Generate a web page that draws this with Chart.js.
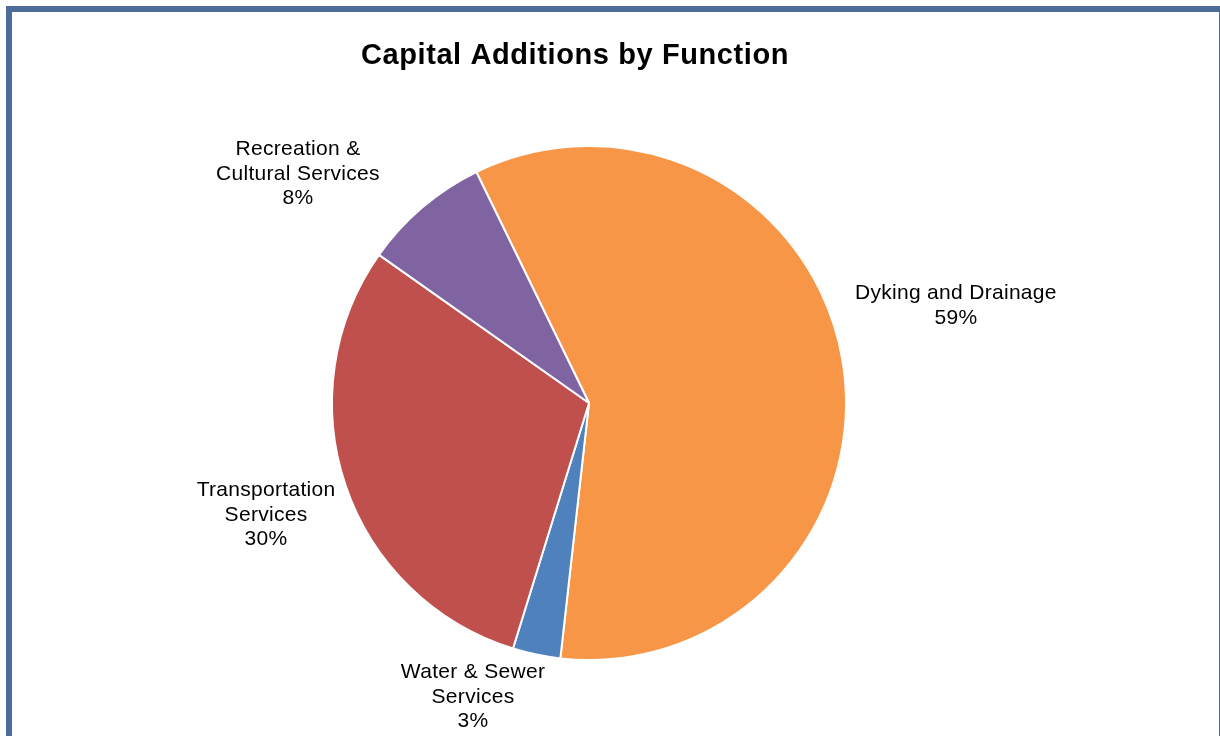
<!DOCTYPE html>
<html>
<head>
<meta charset="utf-8">
<title>Capital Additions by Function</title>
<script src="https://cdn.jsdelivr.net/npm/chart.js@4.4.1/dist/chart.umd.min.js"></script>
<style>
  html, body { margin: 0; padding: 0; background: #ffffff; }
  #wrap { position: relative; width: 1220px; height: 736px; }
</style>
</head>
<body>
<div id="wrap"><canvas id="chart" width="1220" height="736"></canvas></div>
<script>
// Share of capital additions by function (percent)
const categories = ['Dyking and Drainage', 'Water & Sewer Services', 'Transportation Services', 'Recreation & Cultural Services'];
const labelLines = [
  ['Dyking and Drainage'],
  ['Water & Sewer', 'Services'],
  ['Transportation', 'Services'],
  ['Recreation &', 'Cultural Services']
];
const shares = [59, 3, 30, 8];
const sliceColors = ['#F79646', '#4F81BD', '#C0504D', '#8064A2'];

const FONT = '"Liberation Sans", Arial, Helvetica, sans-serif';

// White panel with the blue frame and the title
const framePlugin = {
  id: 'frame',
  beforeDraw(chart) {
    const ctx = chart.ctx;
    ctx.save();
    ctx.fillStyle = '#ffffff';
    ctx.fillRect(0, 0, chart.width, chart.height);
    ctx.strokeStyle = '#4E6C9A';
    ctx.lineWidth = 6;
    ctx.strokeRect(9, 9, chart.width - 7, chart.height + 40);
    ctx.fillStyle = '#000000';
    ctx.font = 'bold 29px ' + FONT;
    if ('letterSpacing' in ctx) ctx.letterSpacing = '0.6px';
    ctx.textAlign = 'center';
    ctx.textBaseline = 'alphabetic';
    ctx.fillText('Capital Additions by Function', 575, 64);
    ctx.restore();
  }
};

// Category name + percentage placed outside each slice.
// Placement: angle (degrees clockwise from 12 o'clock) and distance in pie radii.
const labelPlugin = {
  id: 'sliceLabels',
  afterDatasetsDraw(chart, args, opts) {
    const ctx = chart.ctx;
    const meta = chart.getDatasetMeta(0);
    const data = chart.data.datasets[0].data;
    ctx.save();
    ctx.fillStyle = '#000000';
    ctx.font = opts.fontSize + 'px ' + FONT;
    if ('letterSpacing' in ctx) ctx.letterSpacing = '0.3px';
    ctx.textAlign = 'center';
    ctx.textBaseline = 'middle';
    meta.data.forEach((arc, i) => {
      const place = opts.placement[i];
      const a = place.angle * Math.PI / 180;
      const d = place.dist * arc.outerRadius;
      const cx = arc.x + d * Math.sin(a);
      const cy = arc.y - d * Math.cos(a);
      const lines = labelLines[i].concat([data[i] + '%']);
      const n = lines.length;
      lines.forEach((t, k) => {
        ctx.fillText(t, cx, cy + (k - (n - 1) / 2) * opts.lineHeight + 1);
      });
    });
    ctx.restore();
  }
};

new Chart(document.getElementById('chart'), {
  type: 'pie',
  data: {
    labels: categories,
    datasets: [{
      data: shares,
      backgroundColor: sliceColors,
      borderColor: '#ffffff',
      borderWidth: 2
    }]
  },
  options: {
    responsive: false,
    animation: false,
    rotation: -26,
    layout: { padding: { left: 331, right: 373, top: 145, bottom: 75 } },
    plugins: {
      legend: { display: false },
      tooltip: { enabled: false },
      title: { display: false },
      sliceLabels: {
        fontSize: 21,
        lineHeight: 24.5,
        placement: [
          { angle: 75.0, dist: 1.478 },
          { angle: 201.6, dist: 1.226 },
          { angle: 251.0, dist: 1.329 },
          { angle: 308.3, dist: 1.443 }
        ]
      }
    }
  },
  plugins: [framePlugin, labelPlugin]
});
</script>
</body>
</html>
